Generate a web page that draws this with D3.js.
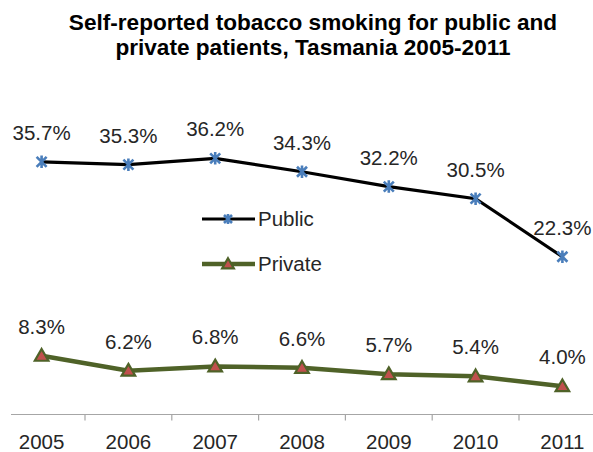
<!DOCTYPE html>
<html>
<head>
<meta charset="utf-8">
<script src="https://cdn.jsdelivr.net/npm/d3@7"></script>
<style>
	body { margin: 0; background: #fff; }
	text { font-family: Arial, "Liberation Sans", sans-serif; }
</style>
</head>
<body>
<div id="chart"></div>
<script>
// data
const years = ['2005', '2006', '2007', '2008', '2009', '2010', '2011'];
const publicValues = [35.7, 35.3, 36.2, 34.3, 32.2, 30.5, 22.3];
const privateValues = [8.3, 6.2, 6.8, 6.6, 5.7, 5.4, 4.0];
const titleLines = [
	'Self-reported tobacco smoking for public and',
	'private patients, Tasmania 2005-2011'
];

const width = 593;
const height = 452;

const svg = d3.select('#chart')
	.append('svg')
	.attr('width', width)
	.attr('height', height);

// plot area runs a bit past the right edge, like the cropped original
const x = d3.scaleBand()
	.domain(years)
	.range([-1.8, 605.8]);

const y = d3.scaleLinear()
	.domain([0, 40])
	.range([414.6, 131.4]);

// title
svg.append('g')
	.selectAll('text')
	.data(titleLines)
	.join('text')
	.attr('x', 313)
	.attr('y', (d, i) => 30 + i * 25)
	.attr('text-anchor', 'middle')
	.attr('font-size', 22.6)
	.attr('font-weight', 'bold')
	.attr('fill', '#000')
	.text((d) => d);

// x axis
const axis = svg.append('g')
	.attr('transform', 'translate(0,414.5)');

axis.append('line')
	.attr('x1', 11)
	.attr('x2', width)
	.attr('stroke', '#a6a6a6')
	.attr('stroke-width', 1.2);

axis.selectAll('line.tick')
	.data(years.slice(1))
	.join('line')
	.attr('class', 'tick')
	.attr('x1', (d) => x(d))
	.attr('x2', (d) => x(d))
	.attr('y1', 0)
	.attr('y2', 6)
	.attr('stroke', '#a6a6a6')
	.attr('stroke-width', 1.2);

axis.selectAll('text')
	.data(years)
	.join('text')
	.attr('x', (d) => x(d) + x.bandwidth() / 2)
	.attr('y', 34)
	.attr('text-anchor', 'middle')
	.attr('font-size', 20.5)
	.attr('fill', '#262626')
	.text((d) => d);

const cx = (d, i) => x(years[i]) + x.bandwidth() / 2;

const line = d3.line()
	.x(cx)
	.y((d) => y(d));

// markers
const star = (g, s) => {
	g.append('path')
		.attr('d', `M${-s},${-s}L${s},${s}M${-s},${s}L${s},${-s}M0,${-s * 1.25}L0,${s * 1.25}`)
		.attr('stroke', '#4a7ebb')
		.attr('stroke-width', 2.6)
		.attr('fill', 'none');
};

const triangle = (g, s) => {
	g.append('path')
		.attr('d', d3.symbol(d3.symbolTriangle, s))
		.attr('transform', 'translate(0,1)')
		.attr('fill', '#c0504d')
		.attr('stroke', '#4f6228')
		.attr('stroke-width', 2.2);
};

// public series
svg.append('path')
	.datum(publicValues)
	.attr('d', line)
	.attr('fill', 'none')
	.attr('stroke', '#000')
	.attr('stroke-width', 3.2);

svg.append('g')
	.selectAll('g')
	.data(publicValues)
	.join('g')
	.attr('transform', (d, i) => `translate(${cx(d, i)},${y(d)})`)
	.each(function () { star(d3.select(this), 5); });

// private series
svg.append('path')
	.datum(privateValues)
	.attr('d', line)
	.attr('fill', 'none')
	.attr('stroke', '#4f6228')
	.attr('stroke-width', 4.5);

svg.append('g')
	.selectAll('g')
	.data(privateValues)
	.join('g')
	.attr('transform', (d, i) => `translate(${cx(d, i)},${y(d)})`)
	.each(function () { triangle(d3.select(this), 80); });

// data labels
const labels = (values) => {
	svg.append('g')
		.selectAll('text')
		.data(values)
		.join('text')
		.attr('x', cx)
		.attr('y', (d) => y(d) - 22)
		.attr('text-anchor', 'middle')
		.attr('font-size', 20.5)
		.attr('fill', '#262626')
		.text((d) => d.toFixed(1) + '%');
};
labels(publicValues);
labels(privateValues);

// legend
const legend = svg.append('g');
const legendItems = [
	{ name: 'Public', y: 219, color: '#000', w: 3.2, marker: (g) => star(g, 4) },
	{ name: 'Private', y: 264, color: '#4f6228', w: 4.5, marker: (g) => triangle(g, 60) }
];

legendItems.forEach((item) => {
	const g = legend.append('g')
		.attr('transform', `translate(0,${item.y})`);
	g.append('line')
		.attr('x1', 202)
		.attr('x2', 255)
		.attr('stroke', item.color)
		.attr('stroke-width', item.w);
	item.marker(g.append('g').attr('transform', 'translate(228,0)'));
	g.append('text')
		.attr('x', 258)
		.attr('y', 7)
		.attr('font-size', 20.5)
		.attr('fill', '#262626')
		.text(item.name);
});
</script>
</body>
</html>
